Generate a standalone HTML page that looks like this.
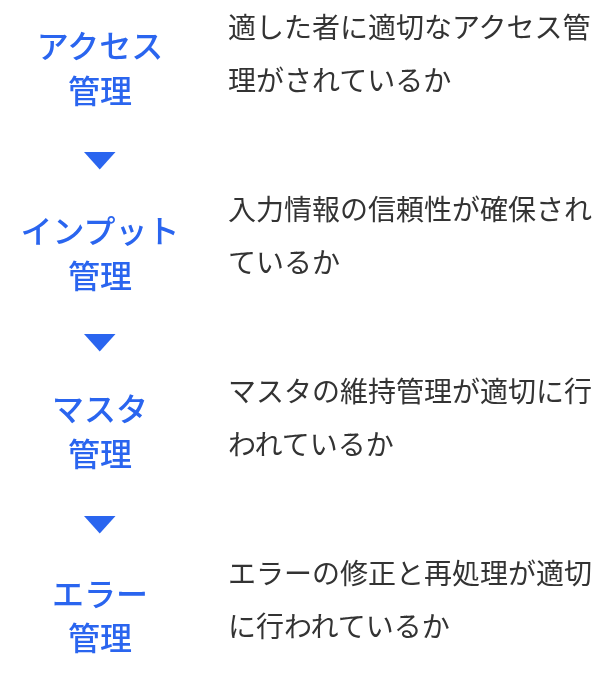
<!DOCTYPE html>
<html lang="ja">
<head>
<meta charset="utf-8">
<title>IT業務処理統制</title>
<style>
html,body{margin:0;padding:0;background:#fff;}
body{width:600px;height:686px;position:relative;overflow:hidden;
  font-family:"Liberation Sans","Noto Sans CJK JP",sans-serif;}
.l{will-change:transform;position:absolute;left:0;width:200px;height:44px;text-align:center;color:#2a65ef;
  font-size:32px;line-height:44px;font-weight:500;white-space:nowrap;}
.r{will-change:transform;position:absolute;left:228px;width:372px;height:52px;color:#333;
  font-size:28px;line-height:52px;font-weight:400;white-space:nowrap;}
.t{position:absolute;left:84px;width:31.5px;height:17.5px;background:#2a65ef;clip-path:polygon(0 0,100% 0,50% 100%);}
</style>
</head>
<body>
<div class="l" style="top:25px">アクセス</div>
<div class="l" style="top:70px">管理</div>
<div class="r" style="top:3px">適した者に適切なアクセス管</div>
<div class="r" style="top:56px">理がされているか</div>
<div class="t" style="top:152px"></div>

<div class="l" style="top:210px">インプット</div>
<div class="l" style="top:255px">管理</div>
<div class="r" style="top:185px">入力情報の信頼性が確保され</div>
<div class="r" style="top:238px">ているか</div>
<div class="t" style="top:334px"></div>

<div class="l" style="top:388px">マスタ</div>
<div class="l" style="top:433px">管理</div>
<div class="r" style="top:367px">マスタの維持管理が適切に行</div>
<div class="r" style="top:420px">われているか</div>
<div class="t" style="top:516px"></div>

<div class="l" style="top:573px">エラー</div>
<div class="l" style="top:617px">管理</div>
<div class="r" style="top:549px">エラーの修正と再処理が適切</div>
<div class="r" style="top:602px">に行われているか</div>
</body>
</html>
